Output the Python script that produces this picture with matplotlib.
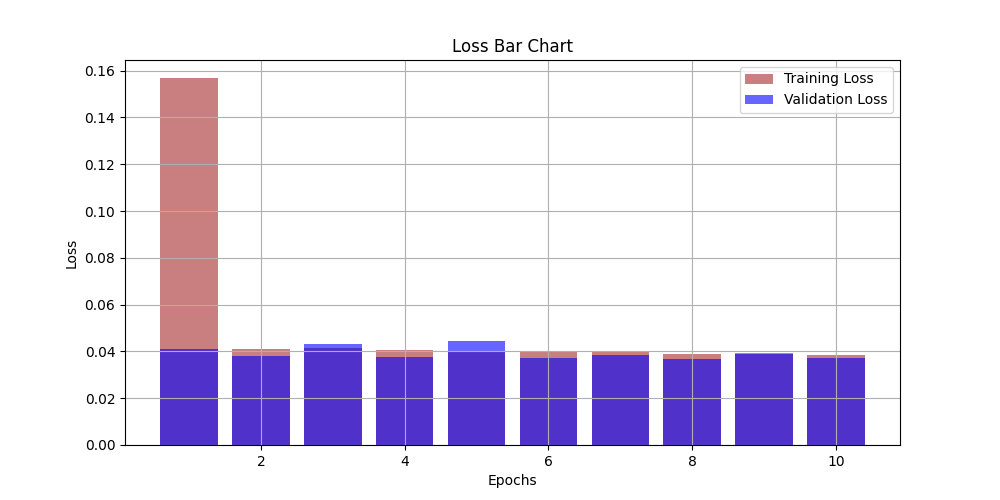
import numpy as np
import matplotlib
matplotlib.use('Agg')
import matplotlib.pyplot as plt

# Loss values per epoch
epochs = list(range(1, 11))
train_loss = [0.1567, 0.0411, 0.0415, 0.0407, 0.0398, 0.0398, 0.0398, 0.0389, 0.0394, 0.0385]
val_loss = [0.0411, 0.0381, 0.0432, 0.0377, 0.0445, 0.0372, 0.0385, 0.0368, 0.0390, 0.0372]

fig = plt.figure(figsize=(10, 5), dpi=100)
plt.bar(epochs, train_loss, color='brown', alpha=0.6, label='Training Loss')
plt.bar(epochs, val_loss, color='blue', alpha=0.6, label='Validation Loss')
plt.title('Loss Bar Chart')
plt.xlabel('Epochs')
plt.ylabel('Loss')
plt.legend()
plt.grid(True)

fig.savefig('out.png')
